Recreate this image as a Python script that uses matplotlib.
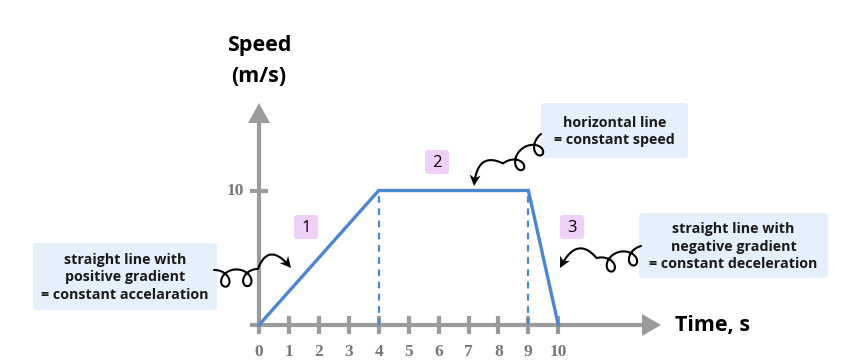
import numpy as np
import matplotlib
matplotlib.use("Agg")
import matplotlib.pyplot as plt
from matplotlib.patches import FancyBboxPatch, Polygon

# speed-time data
time_s = [0, 4, 9, 10]
speed_ms = [0, 10, 10, 0]
x_ticks = [0, 1, 2, 3, 4, 5, 6, 7, 8, 9, 10]
y_ticks = [10]
dashed_at = [4, 9]

notes = ["straight line with\npositive gradient\n= constant accelaration",
         "horizontal line\n= constant speed",
         "straight line with\nnegative gradient\n= constant deceleration"]
stage_labels = ["1", "2", "3"]

W, H = 842, 364
GRAY = "#9b9b9b"
BLUE = "#4a86d6"
FONT = "Open Sans"

fig = plt.figure(figsize=(W / 100, H / 100), dpi=100)

# data axes: origin at px (259,325), 29.93 px per s, 13.45 px per m/s
px_x0, px_y0, sx, sy = 259, 325, 29.93, 13.45
ax = fig.add_axes([0, 0, 1, 1])
ax.set_xlim(-px_x0 / sx, (W - px_x0) / sx)
ax.set_ylim(-(H - px_y0) / sy, px_y0 / sy)
ax.axis("off")

# overlay in pixel coords for the annotations
ov = fig.add_axes([0, 0, 1, 1], zorder=3)
ov.set_xlim(0, W)
ov.set_ylim(H, 0)
ov.axis("off")
ov.patch.set_alpha(0)

def px(x, y):
    return (x - px_x0) / sx, (px_y0 - y) / sy

# axes lines with arrow heads
ax.plot([px(250, 0)[0], px(645, 0)[0]], [0, 0], color=GRAY, lw=3, solid_capstyle="butt", zorder=1)
ax.plot([0, 0], [0, px(0, 120)[1]], color=GRAY, lw=3, solid_capstyle="butt", zorder=1)
ov.add_patch(Polygon([(248, 123), (270, 123), (259, 103)], color=GRAY, lw=0))
ov.add_patch(Polygon([(642, 314), (642, 336), (661, 325)], color=GRAY, lw=0))

tick_half = 9 / sy
for t in x_ticks:
    ax.plot([t, t], [-tick_half, tick_half if t != 0 else 0], color=GRAY, lw=3,
            solid_capstyle="butt", zorder=1)
    ax.text(t, px(0, 352)[1], str(t), ha="center", va="center", color="#777777",
            family="Liberation Serif", fontweight="bold", fontsize=12.5)
for v in y_ticks:
    ax.plot([-tick_half * sy / sx, tick_half * sy / sx], [v, v], color=GRAY, lw=3,
            solid_capstyle="butt", zorder=1)
    ax.text(px(244, 0)[0], v, str(v), ha="right", va="center", color="#777777",
            family="Liberation Serif", fontweight="bold", fontsize=12.5)

# speed line
ax.plot(time_s, speed_ms, color=BLUE, lw=2.4, zorder=2, solid_joinstyle="miter")
for t in dashed_at:
    ax.plot([t, t], [0, 10], color=BLUE, lw=1.6, ls=(0, (3, 2.5)), zorder=2)

# axis titles
ov.text(259, 45, "Speed", ha="center", va="center", fontsize=15.5, fontweight="bold", family=FONT)
ov.text(259, 76, "(m/s)", ha="center", va="center", fontsize=15.5, fontweight="bold", family=FONT)
ov.text(675, 325, "Time, s", ha="left", va="center", fontsize=15.5, fontweight="bold", family=FONT)

# stage number boxes
for (cx, cy), lab in zip([(306, 227), (437, 162), (572, 227)], stage_labels):
    ov.add_patch(FancyBboxPatch((cx - 12, cy - 12), 24, 24,
                                boxstyle="round,pad=0,rounding_size=3",
                                fc="#efd0f8", ec="none"))
    ov.text(cx, cy + 1, lab, ha="center", va="center", fontsize=12, family=FONT)

# note boxes
boxes = [(33, 243, 184, 67), (541, 103, 147, 55), (639, 213, 189, 65)]
for (x, y, w, h), txt in zip(boxes, notes):
    ov.add_patch(FancyBboxPatch((x, y), w, h, boxstyle="round,pad=0,rounding_size=4",
                                fc="#e6f0fc", ec="none"))
    ov.text(x + w / 2, y + h / 2 + 1, txt, ha="center", va="center", fontsize=10.3,
            fontweight="bold", family=FONT, linespacing=1.3, color="#1a1a1a")


def curly(start, end, loop_len, lift=22, dx=9.0, dy=8.5):
    # two loops hanging below, then an arc over to the arrow head
    p0, p1 = np.array(start, float), np.array(end, float)
    d = p1 - p0
    L = np.hypot(*d)
    u = d / L
    n = np.array([-u[1], u[0]])
    if n[1] < 0:
        n = -n  # n points down on screen
    t = np.linspace(0, 4 * np.pi, 300)
    a = loop_len / t[-1]
    along = a * t + dx * np.sin(t)
    down = dy * (1 - np.cos(t))
    s = np.linspace(0, 1, 120)[1:]
    c0 = np.array([loop_len, 0.0])
    c2 = np.array([L, 0.0])
    c1 = np.array([loop_len + (L - loop_len) * 0.35, -lift])
    bz = (np.outer((1 - s) ** 2, c0) + np.outer(2 * s * (1 - s), c1)
          + np.outer(s ** 2, c2))
    along = np.concatenate([along, bz[:, 0]])
    down = np.concatenate([down, bz[:, 1]])
    pts = p0 + np.outer(along, u) + np.outer(down, n)
    dv = pts[-1] - pts[-6]
    dv /= np.hypot(*dv)
    nv = np.array([-dv[1], dv[0]])
    head = 11
    ov.plot(pts[:-12, 0], pts[:-12, 1], color="black", lw=1.5, zorder=4,
            solid_capstyle="round")
    tip = pts[-1]
    ov.add_patch(Polygon([tip, tip - dv * head + nv * 5.5, tip - dv * head * 0.7,
                          tip - dv * head - nv * 5.5],
                         color="black", lw=0, zorder=4))

curly((214, 270), (291, 268), loop_len=44, lift=28)
curly((541, 134), (474, 186), loop_len=48, lift=26)
curly((641, 246), (560, 268), loop_len=46, lift=28)

fig.savefig("out.png", dpi=100)
